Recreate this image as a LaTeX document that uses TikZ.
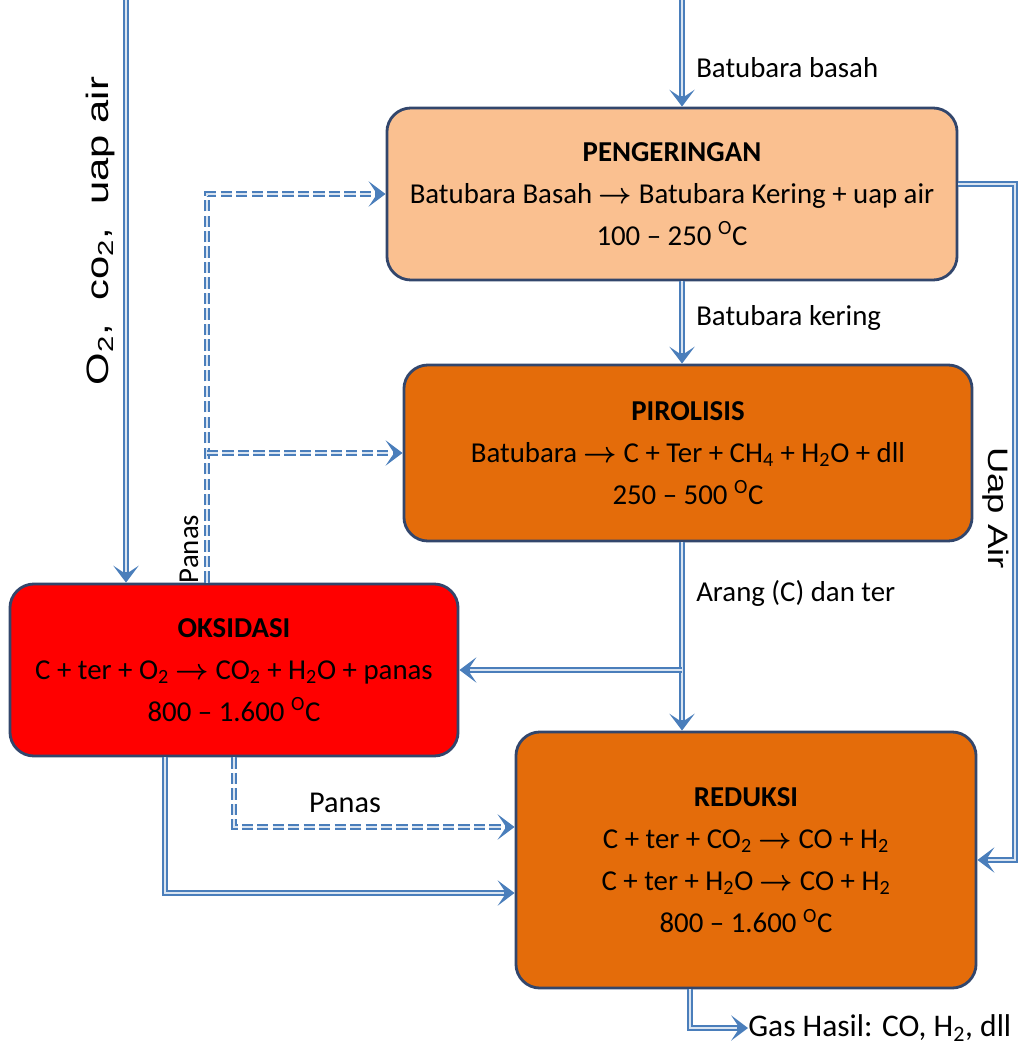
\documentclass[tikz,border=0pt]{standalone}
\usepackage{amsmath}
\usepackage{fontspec}
\setmainfont{Carlito}
\newfontfamily\arialfont{Liberation Sans}
\usepackage{graphicx}
\usepackage{tikz}
\definecolor{gasblue}{RGB}{74,126,187}
\definecolor{gasedge}{RGB}{50,70,108}
\definecolor{gaspeach}{RGB}{250,192,144}
\definecolor{gasorange}{RGB}{228,108,10}
\definecolor{gasred}{RGB}{255,0,0}
\usetikzlibrary{
  arrows.meta,
  positioning,
  calc
}
\newcommand{\gasarrow}{$\boldsymbol{\rightarrow}$}
\newcommand{\degc}{\textsuperscript{O}C}

\begin{document}
\begin{tikzpicture}[
    x=0.025cm, y=-0.025cm,
    >={Stealth[length=12pt,width=18pt,inset=6pt]},
    flow/.style={draw=gasblue, line width=3.6pt, ->,
                 postaction={draw=gasblue!20, line width=1.1pt, -, shorten >=7.5pt}},
    heat/.style={draw=gasblue, line width=3.6pt, ->, dash pattern=on 8pt off 3pt,
                 postaction={draw=gasblue!20, line width=1.1pt, -, shorten >=7.5pt, dash pattern=on 8pt off 3pt}},
    stage/.style={draw=gasedge, line width=2pt, rounded corners=0.6cm, align=center,
                  inner sep=0pt, font=\fontsize{20.5}{30}\selectfont},
    lbl/.style={font=\fontsize{20.5}{24}\selectfont, anchor=west, inner sep=0pt}
  ]
  \useasboundingbox (0,0) rectangle (1019,1046);

  %% --- Stages ---
  \node[stage, fill=gaspeach, minimum width=14.25cm, minimum height=4.3cm] (peng) at (672,194)
    {\textbf{PENGERINGAN}\\
     Batubara Basah \gasarrow{} Batubara Kering + uap air\\
     100 -- 250 \degc};

  \node[stage, fill=gasorange, minimum width=14.2cm, minimum height=4.4cm] (piro) at (688,453)
    {\textbf{PIROLISIS}\\
     Batubara \gasarrow{} C + Ter + CH\textsubscript{4} + H\textsubscript{2}O + dll\\
     250 -- 500 \degc};

  \node[stage, fill=gasred, minimum width=11.2cm, minimum height=4.3cm] (oks) at (234,670)
    {\textbf{OKSIDASI}\\
     C + ter + O\textsubscript{2} \gasarrow{} CO\textsubscript{2} + H\textsubscript{2}O + panas\\
     800 -- 1.600 \degc};

  \node[stage, fill=gasorange, minimum width=11.5cm, minimum height=6.4cm] (red) at (746,860)
    {\textbf{REDUKSI}\\
     C + ter + CO\textsubscript{2} \gasarrow{} CO + H\textsubscript{2}\\
     C + ter + H\textsubscript{2}O \gasarrow{} CO + H\textsubscript{2}\\
     800 -- 1.600 \degc};

  %% --- Free ends ---
  \coordinate (spine) at (682,0);
  \coordinate (o2in) at (126,0);
  \coordinate (hx) at (207,0);
  \coordinate (ux) at (1015,0);
  \coordinate (lx) at (165,0);
  \coordinate (gx) at (690,0);

  %% --- Labels ---
  \node[lbl] (lbasah) at (696,68) {Batubara basah};
  \node[lbl] (lkering) at (696,318) {Batubara kering};
  \node[lbl] (larang) at (696,593) {Arang (C) dan ter};
  \node[lbl, anchor=center, rotate=90, font=\arialfont\fontsize{22}{26}\selectfont] (lo2) at (100,231)
    {\scalebox{1.35}[1]{O\textsubscript{2},\ \ co\textsubscript{2},\ \ uap air}};
  \node[lbl, anchor=center, rotate=90] (lpanas) at (189,549) {Panas};
  \node[lbl, anchor=center, font=\fontsize{21.5}{24}\selectfont] (lpanas2) at (345,803) {Panas};
  \node[lbl, anchor=center, rotate=-90, font=\arialfont\fontsize{20}{24}\selectfont] (luap) at (996,508)
    {\scalebox{1.3}[1]{Uap Air}};
  \node[lbl, font=\fontsize{22.4}{26}\selectfont] (gas) at (748,1028) {Gas Hasil: CO, H\textsubscript{2}, dll};

  %% --- Main flow ---
  \draw[flow] (spine) -- (spine |- peng.north);
  \draw[flow] (spine |- peng.south) -- (spine |- piro.north);
  \draw[flow] (spine |- piro.south) -- (spine |- red.north);
  \draw[flow] (spine |- oks.east) -- (oks.east);
  \draw[flow] (o2in) -- (o2in |- oks.north);
  \draw[flow] (gx |- red.south) |- (gas.west);

  %% --- Heat and steam ---
  \draw[heat] (hx |- oks.north) -- (hx |- peng.west) -- (peng.west);
  \draw[heat] (hx |- piro.west) -- (piro.west);
  \draw[heat] (oks.south) |- ([yshift=0.825cm]red.west);
  \draw[flow] (lx |- oks.south) |- ([yshift=-0.825cm]red.west);
  \draw[flow] ([yshift=0.25cm]peng.east) -- ([yshift=0.25cm]peng.east -| ux)
    -- (ux |- red.east) -- (red.east);
\end{tikzpicture}
\end{document}
